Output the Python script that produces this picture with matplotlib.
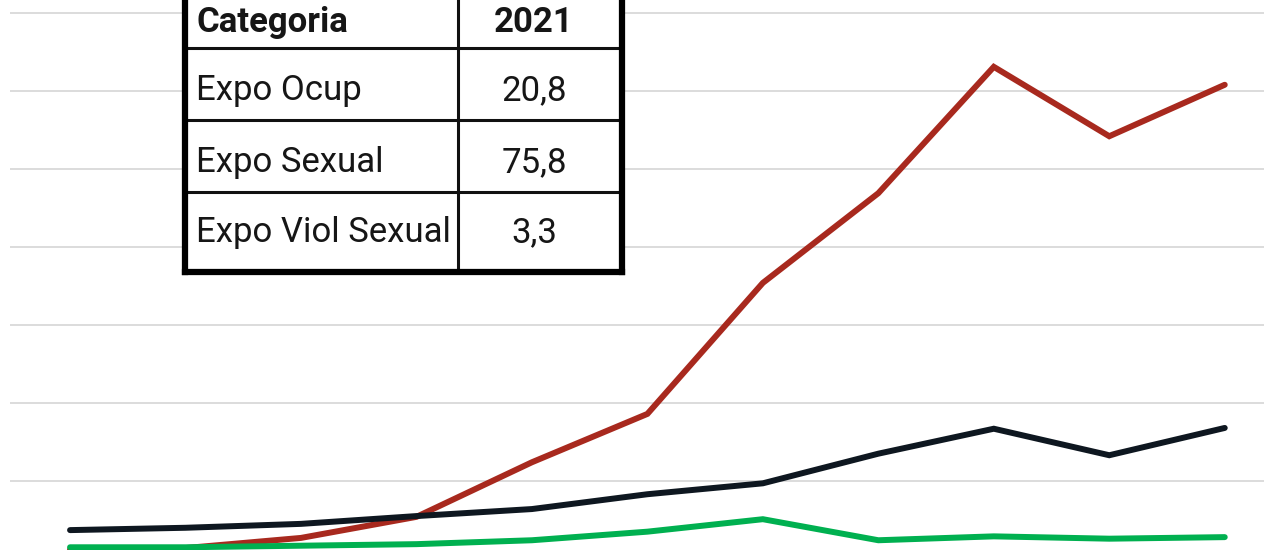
import matplotlib
matplotlib.use("Agg")
import matplotlib.pyplot as plt

# series (arbitrary units, gridline step = 10)
years = list(range(2011, 2022))
expo_sexual = [1.2, 1.4, 2.7, 5.4, 12.4, 18.6, 35.4, 46.9, 63.1, 54.2, 60.8]
expo_ocup = [3.7, 4.0, 4.5, 5.5, 6.4, 8.3, 9.7, 13.5, 16.7, 13.3, 16.8]
expo_viol = [1.5, 1.5, 1.7, 1.9, 2.4, 3.5, 5.1, 2.4, 2.9, 2.6, 2.8]

# inset table
tab_header = ["Categoria", "2021"]
tab_rows = ["Expo Ocup", "Expo Sexual", "Expo Viol Sexual"]
tab_vals = ["20,8", "75,8", "3,3"]

plt.rcParams["font.family"] = ["Roboto", "DejaVu Sans"]

fig = plt.figure(figsize=(12.64, 5.5), dpi=100)
ax = fig.add_axes([10 / 1264, 0, 1 - 10 / 1264, 1])

x = list(range(len(years)))
kw = dict(lw=4.3, solid_capstyle="round", solid_joinstyle="miter")
ax.plot(x, expo_sexual, color="#A8291E", zorder=3, **kw)
ax.plot(x, expo_ocup, color="#0E1720", zorder=4, **kw)
ax.plot(x, expo_viol, color="#00B050", zorder=5, **kw)

ax.set_yticks(range(0, 80, 10))
ax.set_xlim(-0.52, 10.34)
ax.set_ylim(1.15, 71.67)
ax.grid(axis="y", color="#D9D9D9", lw=1.3)
ax.tick_params(length=0, labelbottom=False, labelleft=False)
for s in ax.spines.values():
    s.set_visible(False)

# table drawn in its own axes, pixel units of the figure
tx = fig.add_axes([185 / 1264, (550 - 272) / 550, 437 / 1264, 296 / 550])
tx.set_xlim(0, 437)
tx.set_ylim(296, 0)
tx.set_facecolor("white")
tx.set_xticks([])
tx.set_yticks([])
for s in tx.spines.values():
    s.set_linewidth(4.5)
    s.set_color("black")

edges = [0, 72, 144, 216, 290]   # row borders (table top is above the image)
col_split = 273
for e in edges[1:-1]:
    tx.axhline(e, color="#111111", lw=2.2)
tx.axvline(col_split, color="#111111", lw=2.2)

cells = [tab_header] + [[r, v] for r, v in zip(tab_rows, tab_vals)]
nudge = [-4, 0, 0, 4]
for i, (lab, val) in enumerate(cells):
    yb = edges[i + 1] - 20 - nudge[i]
    fw = "bold" if i == 0 else "normal"
    tx.text(11, yb, lab, ha="left", va="baseline", fontsize=25, fontweight=fw, color="#161616")
    tx.text(349, yb, val, ha="center", va="baseline", fontsize=25, fontweight=fw, color="#161616")

fig.savefig("out.png", dpi=100)
